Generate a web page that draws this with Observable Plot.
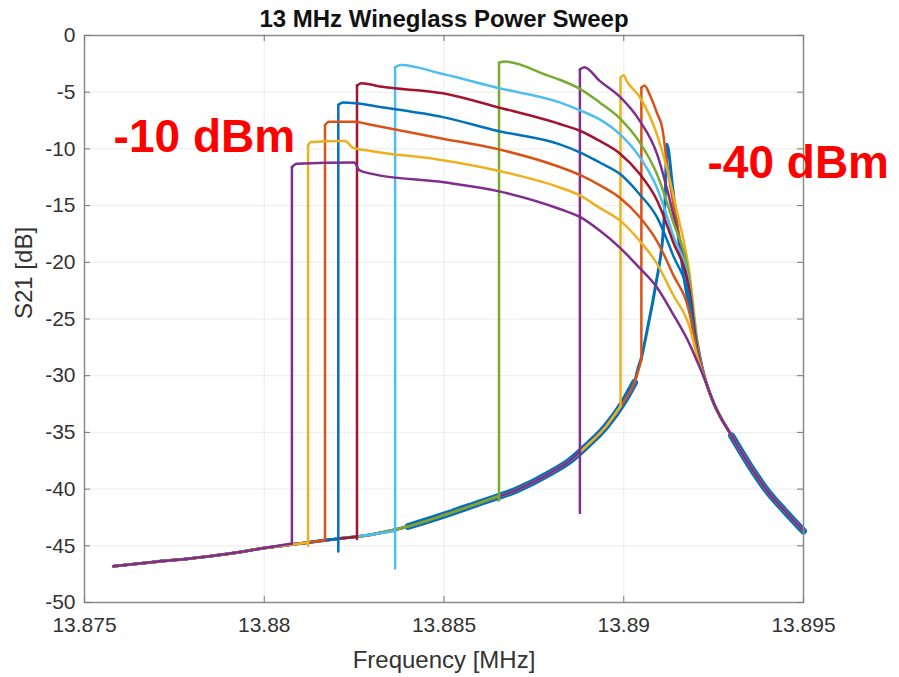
<!DOCTYPE html>
<html>
<head>
<meta charset="utf-8">
<script src="https://cdn.jsdelivr.net/npm/d3@7"></script>
<script src="https://cdn.jsdelivr.net/npm/@observablehq/plot@0.6"></script>
<style>
  html, body { margin: 0; padding: 0; background: #fff; }
</style>
</head>
<body>
<div id="chart"></div>
<script>
// Drive power of each sweep (dBm), in drawing order
const powers = [-40, -37, -34, -31, -28, -25, -22, -19, -16, -13, -10];
const colors = ["#0072BD", "#D95319", "#EDB120", "#7E2F8E", "#77AC30", "#4DBEEE",
                "#A2142F", "#0072BD", "#D95319", "#EDB120", "#7E2F8E"];

// Lower (linear) branch shared by all sweeps: frequency [MHz], S21 [dB]
const baseF   = [13.8758, 13.8770, 13.8780, 13.8790, 13.8800, 13.8810, 13.8820, 13.8830, 13.8840,
                 13.8850, 13.8860, 13.8870, 13.8880, 13.8885, 13.8890, 13.8895, 13.8900, 13.8903];
const baseS21 = [-46.8, -46.4, -46.1, -45.7, -45.2, -44.8, -44.4, -44.0, -43.3,
                 -42.3, -41.2, -40.1, -38.5, -37.5, -36.1, -34.5, -32.3, -30.6];

// High-frequency tail shared by all sweeps
const tailF   = [13.8923, 13.8925, 13.8930, 13.8935, 13.8940, 13.8945, 13.8950];
const tailS21 = [-30.7, -32.4, -35.3, -37.9, -40.2, -42.0, -43.7];

// Jump of each sweep onto the upper branch (none at -40 dBm)
const jumpF    = [null, 13.89049, 13.88991, 13.88878, 13.88653, 13.88364, 13.88258, 13.88206, 13.88169, 13.88122, 13.88077];
const jumpBase = [null, -28.6, -32.7, -36.7, -40.6, -43.7, -44.2, -44.4, -44.5, -44.7, -44.8];
const jumpLow  = [null, -28.6, -32.7, -42.1, -41.0, -47.0, -44.4, -45.5, -44.5, -45.0, -44.8];

// Upper branch of each sweep: [MHz, dB]
const upperM40 = [[13.8904, -29.3], [13.8905, -28.3], [13.8906, -26.8], [13.8907, -25.2], [13.8908, -23.6],
                  [13.8909, -21.8], [13.8910, -20.0], [13.89108, -18.0], [13.89115, -14.5], [13.8912, -9.6],
                  [13.89136, -13.4], [13.89156, -18.7], [13.89175, -22.8], [13.8919, -25.2], [13.89205, -27.8]];
const upperM37 = [[13.89049, -4.6], [13.89058, -4.4], [13.89072, -5.2], [13.89092, -6.8], [13.89108, -8.3],
                  [13.89119, -11.0], [13.89147, -16.5], [13.89183, -22.0], [13.89205, -27.2]];
const upperM34 = [[13.88991, -3.7], [13.8900, -3.5], [13.89008, -4.0], [13.89044, -5.4], [13.89092, -8.7],
                  [13.89119, -11.6], [13.89147, -15.4], [13.89183, -21.0], [13.89205, -27.0]];
const upperM31 = [[13.88878, -3.0], [13.8889, -2.8], [13.88933, -4.0], [13.88989, -5.4], [13.89044, -7.5],
                  [13.89092, -10.4], [13.89128, -14.5], [13.89175, -21.3], [13.89205, -27.2]];
const upperM28 = [[13.88653, -2.4], [13.8867, -2.3], [13.88786, -3.5], [13.88822, -3.9], [13.88878, -4.7],
                  [13.88933, -5.9], [13.88989, -7.3], [13.89044, -9.4], [13.89092, -12.2], [13.89136, -16.3],
                  [13.89183, -21.6], [13.89205, -27.4]];
const upperM25 = [[13.88364, -2.8], [13.8838, -2.6], [13.88497, -3.4], [13.88647, -4.6], [13.88822, -5.9],
                  [13.88878, -6.6], [13.88933, -7.4], [13.88989, -8.7], [13.89044, -10.7], [13.89092, -13.4],
                  [13.89136, -17.5], [13.89183, -22.2], [13.89205, -27.6]];
const upperM22 = [[13.88258, -4.4], [13.8827, -4.2], [13.88322, -4.5], [13.88497, -5.1], [13.88647, -6.3],
                  [13.88822, -7.8], [13.88878, -8.4], [13.88933, -9.3], [13.88989, -10.4], [13.89044, -12.2],
                  [13.89092, -14.5], [13.89136, -18.1], [13.89183, -22.5], [13.89205, -27.8]];
const upperM19 = [[13.88206, -6.1], [13.8822, -5.9], [13.8826, -6.0], [13.88322, -6.3], [13.88497, -7.2],
                  [13.88647, -8.4], [13.88822, -9.6], [13.88878, -10.3], [13.88933, -11.2], [13.88989, -12.2],
                  [13.89044, -14.0], [13.89092, -16.0], [13.89136, -19.3], [13.89183, -23.4], [13.89205, -28.0]];
const upperM16 = [[13.88169, -7.9], [13.8818, -7.6], [13.8825, -7.6], [13.8830, -7.9], [13.88497, -9.1],
                  [13.88647, -10.0], [13.88822, -11.6], [13.88878, -12.3], [13.88933, -13.2], [13.88989, -14.3],
                  [13.89044, -16.0], [13.89092, -18.1], [13.89136, -21.0], [13.89183, -24.5], [13.89205, -28.2]];
const upperM13 = [[13.88122, -9.7], [13.8813, -9.4], [13.88225, -9.3], [13.88247, -9.9], [13.8830, -10.2],
                  [13.88497, -11.0], [13.88647, -11.9], [13.88822, -13.4], [13.88878, -14.1], [13.88933, -15.2],
                  [13.88989, -16.3], [13.89044, -18.1], [13.89092, -20.1], [13.89136, -22.8], [13.89183, -25.7],
                  [13.89205, -28.4]];
const upperM10 = [[13.88077, -11.6], [13.8809, -11.3], [13.8825, -11.2], [13.88265, -11.9], [13.8830, -12.2],
                  [13.8850, -12.95], [13.88647, -13.7], [13.88822, -15.3], [13.88878, -16.0], [13.88933, -17.2],
                  [13.88989, -18.7], [13.89044, -20.5], [13.89092, -22.2], [13.89136, -24.5], [13.89183, -27.2],
                  [13.89205, -28.8]];
const upperBranches = [upperM40, upperM37, upperM34, upperM31, upperM28, upperM25,
                       upperM22, upperM19, upperM16, upperM13, upperM10];

// Frequency spans where the -40 dBm trace is noisy
const noisySpans = [[13.8838, 13.8903], [13.8928, 13.8950]];

// Axes
const xTicks = [13.875, 13.88, 13.885, 13.89, 13.895];
const xTickLabels = ["13.875", "13.88", "13.885", "13.89", "13.895"];
const yTicks = [0, -5, -10, -15, -20, -25, -30, -35, -40, -45, -50];
const yTickLabels = ["0", "-5", "-10", "-15", "-20", "-25", "-30", "-35", "-40", "-45", "-50"];

// Power annotations
const noteText = ["-10 dBm", "-40 dBm"];
const noteF    = [13.87581, 13.89233];
const noteS21  = [-10.3, -12.6];

const W = 899, H = 677;
const mL = 84, mR = 96, mT = 35, mB = 75;
const plotW = W - mL - mR, plotH = H - mT - mB;
const tickLen = 6;

const toRows = pts => pts.map(([f, s21]) => ({f, s21}));

// Split one sweep into its smooth lower part, the vertical jump, and its smooth upper part
function sweepParts(i) {
  const up = upperBranches[i];
  const fStart = jumpF[i] ?? up[0][0];
  const lower = [];
  baseF.forEach((f, k) => { if (f < fStart) lower.push([f, baseS21[k]]); });
  const upper = up.slice();
  const fEnd = up[up.length - 1][0];
  tailF.forEach((f, k) => { if (f > fEnd) upper.push([f, tailS21[k]]); });
  if (jumpF[i] == null) {
    return {lower: toRows(lower.concat(upper)), jump: [], upper: []};
  }
  lower.push([jumpF[i], jumpBase[i]]);
  const jump = [[jumpF[i], jumpBase[i]], [jumpF[i], jumpLow[i]], up[0]];
  return {lower: toRows(lower), jump: toRows(jump), upper: toRows(upper)};
}

const baseRows = baseF.map((f, k) => ({f, s21: baseS21[k]}));
const tailRows = tailF.map((f, k) => ({f, s21: tailS21[k]}));
const noisyRows = noisySpans.map(([a, b]) =>
  baseRows.concat(tailRows).filter(d => d.f >= a && d.f <= b));

const sweepMarks = powers.flatMap((p, i) => {
  const parts = sweepParts(i);
  const style = {x: "f", y: "s21", stroke: colors[i], strokeWidth: i === 0 ? 3 : 2.5,
                 strokeLinejoin: "round", strokeLinecap: "round"};
  return [
    Plot.line(parts.lower, {...style, curve: "monotone-x"}),
    Plot.line(parts.jump, {...style, curve: "linear"}),
    Plot.line(parts.upper, {...style, curve: "monotone-x"})
  ];
});

const chart = Plot.plot({
  width: W, height: H,
  marginLeft: mL, marginRight: mR, marginTop: mT, marginBottom: mB,
  style: {fontFamily: "'Liberation Sans', Arial, Helvetica, sans-serif", color: "#333", background: "#fff", overflow: "visible"},
  x: {domain: [13.875, 13.895]},
  y: {domain: [-50, 0]},
  marks: [
    Plot.gridX(xTicks, {stroke: "#000", strokeOpacity: 0.08, strokeWidth: 1}),
    Plot.gridY(yTicks, {stroke: "#000", strokeOpacity: 0.08, strokeWidth: 1}),
    Plot.axisX(xTicks, {tickSize: 0, tickPadding: 15, fontSize: 21, label: null,
                        tickFormat: d => xTickLabels[xTicks.indexOf(d)]}),
    Plot.axisY(yTicks, {tickSize: 0, tickPadding: 9, fontSize: 21, label: null,
                        tickFormat: d => yTickLabels[yTicks.indexOf(d)]}),
    // noisy stretches of the -40 dBm trace
    ...noisyRows.map(rows => Plot.line(rows, {x: "f", y: "s21", stroke: colors[0], strokeWidth: 7,
                                              strokeLinejoin: "round", curve: "monotone-x"})),
    ...sweepMarks,
    Plot.frame({stroke: "#8a8a8a", strokeWidth: 1.5}),
    // inward ticks on all four sides
    Plot.tickX(xTicks, {x: d => d, insetTop: plotH - tickLen, stroke: "#777"}),
    Plot.tickX(xTicks, {x: d => d, insetBottom: plotH - tickLen, stroke: "#777"}),
    Plot.tickY(yTicks, {y: d => d, insetRight: plotW - tickLen, stroke: "#777"}),
    Plot.tickY(yTicks, {y: d => d, insetLeft: plotW - tickLen, stroke: "#777"}),
    Plot.text(noteText, {x: (d, i) => noteF[i], y: (d, i) => noteS21[i], text: d => d,
                         fill: "#ff0000", fontWeight: "bold", fontSize: 46,
                         textAnchor: "start", lineAnchor: "bottom"}),
    Plot.text(["13 MHz Wineglass Power Sweep"], {frameAnchor: "top", dy: -9, lineAnchor: "bottom",
                         fontWeight: "bold", fontSize: 24, fill: "#111"}),
    Plot.text(["Frequency [MHz]"], {frameAnchor: "bottom", dy: 65, lineAnchor: "bottom", fontSize: 24, fill: "#333"}),
    Plot.text(["S21 [dB]"], {frameAnchor: "left", dx: -53, rotate: -90, lineAnchor: "bottom", fontSize: 24, fill: "#333"})
  ]
});

document.getElementById("chart").appendChild(chart);
</script>
</body>
</html>
